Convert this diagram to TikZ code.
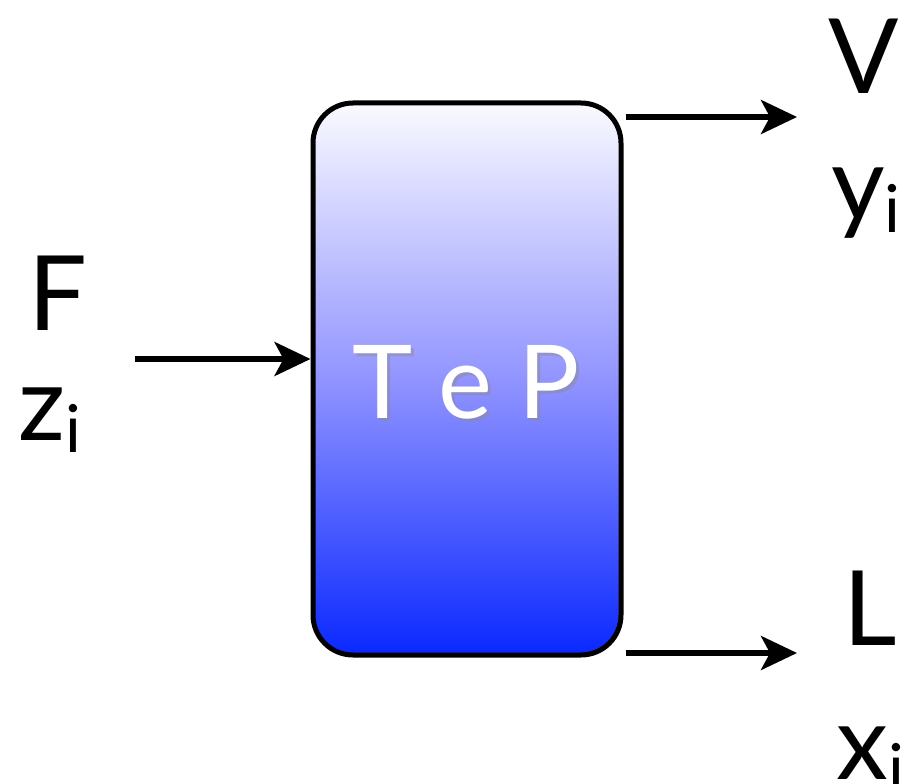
\documentclass[tikz,border=0pt]{standalone}
\usepackage{fontspec}
\setmainfont{Lato}
\usetikzlibrary{arrows.meta,calc}
\definecolor{tanktop}{RGB}{250,250,255}
\definecolor{tankmid}{RGB}{145,148,255}
\definecolor{tankbot}{RGB}{10,40,255}
\tikzset{
  flow/.style={line width=5.5pt,-{Stealth[length=36pt,width=34pt,inset=9pt]}},
  big/.style={font=\fontsize{104}{104}\selectfont, inner sep=0pt, anchor=base west},
  tank/.style={draw, line width=5pt, rounded corners=40pt, minimum width=308pt, minimum height=552pt,
    top color=tanktop, bottom color=tankbot, middle color=tankmid, inner sep=0pt},
}
\newcommand{\subi}{\raisebox{-0.12em}{\fontsize{66}{66}\selectfont i}}
\begin{document}
\begin{tikzpicture}[x=1pt,y=-1pt]
\useasboundingbox (0,0) rectangle (903,784);
\node[tank] (tank) at (467,379) {};
\node[font=\fontsize{102}{102}\selectfont, text=black!45, opacity=0.5, inner sep=0pt] (shadow) at (469,385) {T e P};
\node[font=\fontsize{102}{102}\selectfont, text=white, inner sep=0pt] (label) at (466,382) {T e P};
\coordinate (fstart) at (135,359);
\coordinate (vend) at (797,117);
\coordinate (lend) at (797,653);
\draw[flow] (fstart) -- (fstart -| tank.west);
\draw[flow] ($(tank.east |- vend)+(2,0)$) -- (vend);
\draw[flow] ($(tank.east |- lend)+(2,0)$) -- (lend);
\node[big] (F) at (28,330) {F};
\node[big] (z) at (18,440) {z\subi};
\node[big] (V) at (828,93) {V};
\node[big] (y) at (831,220) {y\subi};
\node[big] (L) at (843,645) {L};
\node[big] (x) at (836,779) {x\subi};
\end{tikzpicture}
\end{document}
